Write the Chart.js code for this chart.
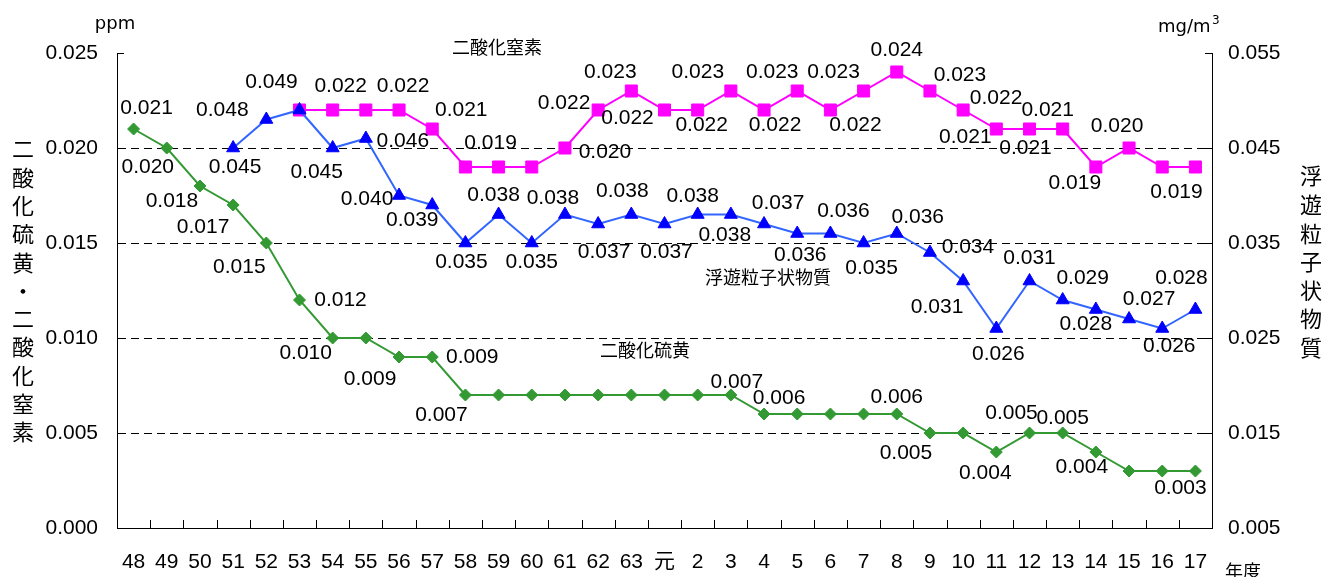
<!DOCTYPE html>
<html><head><meta charset="utf-8">
<script src="https://cdn.jsdelivr.net/npm/chart.js@4.4.0/dist/chart.umd.min.js"></script>
<style>html,body{margin:0;padding:0;background:#fff;overflow:hidden}canvas{display:block}</style>
</head><body>
<canvas id="c" width="1325" height="577"></canvas>
<script>
// ---- data ----
const categories = ['48','49','50','51','52','53','54','55','56','57','58','59','60','61','62','63','元','2','3','4','5','6','7','8','9','10','11','12','13','14','15','16','17'];
const so2 = [0.021,0.020,0.018,0.017,0.015,0.012,0.010,0.010,0.009,0.009,0.007,0.007,0.007,0.007,0.007,0.007,0.007,0.007,0.007,0.006,0.006,0.006,0.006,0.006,0.005,0.005,0.004,0.005,0.005,0.004,0.003,0.003,0.003];
const no2 = [null,null,null,null,null,0.022,0.022,0.022,0.022,0.021,0.019,0.019,0.019,0.020,0.022,0.023,0.022,0.022,0.023,0.022,0.023,0.022,0.023,0.024,0.023,0.022,0.021,0.021,0.021,0.019,0.020,0.019,0.019];
const spm = [null,null,null,0.045,0.048,0.049,0.045,0.046,0.040,0.039,0.035,0.038,0.035,0.038,0.037,0.038,0.037,0.038,0.038,0.037,0.036,0.036,0.035,0.036,0.034,0.031,0.026,0.031,0.029,0.028,0.027,0.026,0.028];
const leftTicks = [0,0.005,0.010,0.015,0.020,0.025];
const rightTicks = [0.005,0.015,0.025,0.035,0.045,0.055];
const seriesNames = ['浮遊粒子状物質','二酸化窒素','二酸化硫黄'];
const leftTitle = '二酸化硫黄・二酸化窒素';
const rightTitle = '浮遊粒子状物質';

// ---- label placement (offsets from each point, px) ----
const placeSpm = {3:[2,19],4:[-44,-9],5:[-28,-28],6:[-16,24],7:[37,3],8:[-32,4],9:[-20,15],10:[-4,19],11:[-5,-19],12:[0,19],13:[-12,-16],14:[6,28],15:[-9,-23],16:[2,28],17:[-5,-18],18:[-6,21],19:[14,-21],20:[3,22],21:[13,-22],22:[8,25],23:[21,-16],24:[38,-5],25:[-26,26],26:[2,26],27:[0,-23],28:[20,-22],29:[-10,15],30:[20,-20],31:[7,18],32:[-14,-31]};
const placeNo2 = {6:[8,-24],8:[4,-24],9:[29,-19],11:[-8,-24],13:[40,4],14:[-34,-7],15:[-21,-19],16:[-37,8],17:[4,15],18:[-33,-19],19:[11,15],20:[-25,-19],21:[25,15],22:[-30,-19],23:[0,-22],24:[30,-16],25:[33,-12],26:[-31,8],27:[-4,19],28:[-15,-19],29:[-21,16],30:[-12,-22],32:[-19,25]};
const placeSo2 = {0:[13,-21],1:[-19,19],2:[-28,15],3:[-30,22],4:[-27,24],5:[41,0],6:[-27,15],8:[-29,22],9:[40,0],10:[-24,20],18:[6,-13],19:[15,-16],23:[0,-17],24:[-24,20],26:[-11,21],27:[-18,-20],28:[0,-15],29:[-14,15],32:[-15,17]};
const placements = [placeSpm, placeNo2, placeSo2];

const FONT = '"Liberation Sans", Arial, "Noto Sans CJK JP", sans-serif';
const CJK = '"Noto Sans CJK JP", sans-serif';
const UNIT = '"DejaVu Sans", sans-serif';

const decor = {
  id: 'decor',
  beforeDatasetsDraw(chart) {
    const {ctx, chartArea: a, scales: {x, y, y2}} = chart;
    ctx.save();
    ctx.strokeStyle = '#000'; ctx.lineWidth = 1;
    ctx.beginPath();
    for (let i = 1; i < categories.length; i++) {
      const px = Math.round((x.getPixelForValue(i - 1) + x.getPixelForValue(i)) / 2) + 0.5;
      ctx.moveTo(px, a.bottom); ctx.lineTo(px, a.bottom - 8);
    }
    y.ticks.forEach(t => { const py = Math.round(y.getPixelForValue(t.value)) + 0.5; ctx.moveTo(a.left, py); ctx.lineTo(a.left + 7, py); });
    y2.ticks.forEach(t => { const py = Math.round(y2.getPixelForValue(t.value)) + 0.5; ctx.moveTo(a.right, py); ctx.lineTo(a.right - 7, py); });
    ctx.stroke();
    ctx.restore();
  },
  afterDatasetsDraw(chart) {
    const {ctx} = chart;
    ctx.save();
    ctx.fillStyle = '#000';
    ctx.font = '21px ' + FONT;
    ctx.textAlign = 'center'; ctx.textBaseline = 'middle';
    chart.data.datasets.forEach((ds, di) => {
      const meta = chart.getDatasetMeta(di);
      const pl = placements[di];
      Object.keys(pl).forEach(k => {
        const i = +k; const v = ds.data[i];
        if (v == null) return;
        const el = meta.data[i];
        ctx.fillText(v.toFixed(3), el.x + pl[k][0], el.y + pl[k][1]);
      });
    });
    // series names
    ctx.font = '18px ' + CJK;
    ctx.fillText(seriesNames[1], 497, 47);
    ctx.fillText(seriesNames[0], 768, 277);
    ctx.fillText(seriesNames[2], 645, 350);
    // axis titles (vertical)
    ctx.font = '22px ' + CJK;
    [...leftTitle].forEach((ch, i) => ctx.fillText(ch, 23, 149 + i * 28.3));
    [...rightTitle].forEach((ch, i) => ctx.fillText(ch, 1311, 176 + i * 28.6));
    // units
    ctx.font = '18px ' + UNIT;
    ctx.fillText('ppm', 115, 24);
    ctx.textAlign = 'left';
    ctx.fillText('mg/m', 1158, 27);
    ctx.font = '12px ' + UNIT;
    ctx.fillText('3', 1212, 21);
    ctx.font = '18px ' + CJK;
    ctx.textAlign = 'center';
    ctx.fillText('年度', 1243, 571);
    ctx.restore();
  }
};

new Chart(document.getElementById('c'), {
  type: 'line',
  data: {
    labels: categories,
    datasets: [
      {label: seriesNames[0], data: spm, yAxisID: 'y2', borderColor: '#3366ff', backgroundColor: '#0000ff', pointBackgroundColor: '#0000ff', pointBorderColor: '#0000ff', pointStyle: 'triangle', pointRadius: 7.5, pointBorderWidth: 1, borderWidth: 2, tension: 0},
      {label: seriesNames[1], data: no2, yAxisID: 'y', borderColor: '#ff00ff', backgroundColor: '#ff00ff', pointBackgroundColor: '#ff00ff', pointBorderColor: '#ff00ff', pointStyle: 'rect', pointRadius: 8.5, pointBorderWidth: 1, borderWidth: 2, tension: 0},
      {label: seriesNames[2], data: so2, yAxisID: 'y', borderColor: '#339933', backgroundColor: '#339933', pointBackgroundColor: '#339933', pointBorderColor: '#339933', pointStyle: 'rectRot', pointRadius: 6, pointBorderWidth: 1, borderWidth: 2, tension: 0}
    ]
  },
  options: {
    responsive: false, animation: false, events: [],
    devicePixelRatio: 1,
    layout: {padding: {top: 53, left: 0, right: 0, bottom: 0}},
    plugins: {legend: {display: false}, tooltip: {enabled: false}},
    scales: {
      x: {
        type: 'category', offset: true,
        grid: {display: false, drawTicks: false},
        border: {display: true, color: '#000', width: 1},
        ticks: {color: '#000', font: {size: 21, family: FONT}, padding: 22, autoSkip: false, maxRotation: 0, minRotation: 0},
        afterFit(s) { s.height = 49; }
      },
      y: {
        position: 'left', min: 0, max: 0.025,
        afterBuildTicks(s) { s.ticks = leftTicks.map(v => ({value: v})); },
        ticks: {color: '#000', font: {size: 21, family: FONT}, padding: 19, callback: v => v.toFixed(3)},
        grid: {drawTicks: false, color: c => (c.tick && (c.tick.value === 0 || c.tick.value === 0.025)) ? 'rgba(0,0,0,0)' : '#000', lineWidth: 1},
        border: {display: true, color: '#000', width: 1, dash: [8, 5]},
        afterFit(s) { s.width = 117; }
      },
      y2: {
        position: 'right', min: 0.005, max: 0.055,
        afterBuildTicks(s) { s.ticks = rightTicks.map(v => ({value: v})); },
        ticks: {color: '#000', font: {size: 21, family: FONT}, padding: 16, callback: v => v.toFixed(3)},
        grid: {display: false, drawTicks: false},
        border: {display: true, color: '#000', width: 1},
        afterFit(s) { s.width = 113; }
      }
    }
  },
  plugins: [decor]
});
</script>
</body></html>
